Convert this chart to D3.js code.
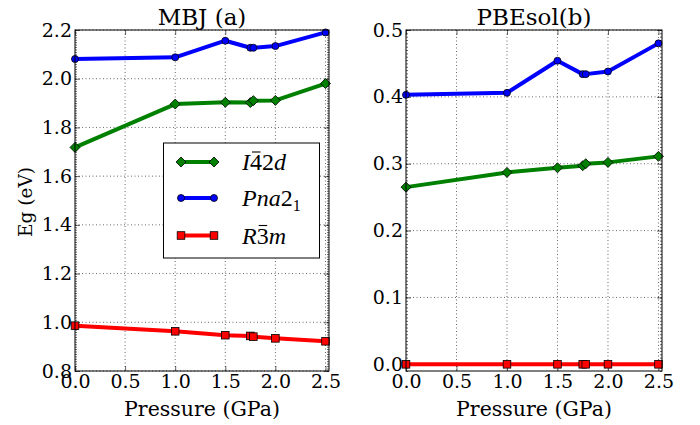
<!DOCTYPE html>
<html><head><meta charset="utf-8">
<script src="https://cdn.jsdelivr.net/npm/d3@7"></script>
<style>
body{margin:0;background:#fff;}
svg{display:block;font-family:"DejaVu Serif","Liberation Serif",serif;}
</style></head>
<body><svg id="c" width="700" height="425"></svg>
<script>
// Data
const pressure = [0, 1.0, 1.5, 1.75, 1.78, 2.0, 2.5];
const mbjI42d  = [1.718, 1.896, 1.903, 1.902, 1.910, 1.911, 1.980];
const mbjPna21 = [2.081, 2.088, 2.156, 2.127, 2.127, 2.134, 2.190];
const mbjR3m   = [0.986, 0.963, 0.947, 0.944, 0.941, 0.934, 0.922];
const pbeI42d  = [0.265, 0.287, 0.294, 0.297, 0.300, 0.302, 0.311];
const pbePna21 = [0.403, 0.406, 0.454, 0.434, 0.434, 0.438, 0.480];
const pbeR3m   = [0, 0, 0, 0, 0, 0, 0];
const xTicks = [0, 0.5, 1.0, 1.5, 2.0, 2.5];
const mbjYTicks = [0.8, 1.0, 1.2, 1.4, 1.6, 1.8, 2.0, 2.2];
const pbeYTicks = [0.0, 0.1, 0.2, 0.3, 0.4, 0.5];
const titles = ["MBJ (a)", "PBEsol(b)"];

const FONT = '"DejaVu Serif","Liberation Serif",serif';
const MATH = '"Liberation Serif","DejaVu Serif",serif';
const svg = d3.select("#c");
const series = [
  {key:"I42d", color:"#008000", marker:"diamond"},
  {key:"Pna21", color:"#0000ff", marker:"circle"},
  {key:"R3m", color:"#ff0000", marker:"square"}
];

function drawMarker(g, type, x, y, color){
  if(type==="diamond"){
    g.append("path").attr("d",`M${x},${y-5}L${x+5},${y}L${x},${y+5}L${x-5},${y}Z`)
      .attr("fill",color).attr("stroke","#000").attr("stroke-width",0.8);
  } else if(type==="circle"){
    g.append("circle").attr("cx",x).attr("cy",y).attr("r",3.5)
      .attr("fill",color).attr("stroke","#000").attr("stroke-width",0.8);
  } else {
    g.append("rect").attr("x",x-3.8).attr("y",y-3.8).attr("width",7.6).attr("height",7.6)
      .attr("fill",color).attr("stroke","#000").attr("stroke-width",0.8);
  }
}

function panel(opts){
  const {x0,x1,y0,y1,yDomain,yTicks,yFmt,data,title,minorStep} = opts;
  const x = d3.scaleLinear().domain([0,2.535]).range([x0,x1]);
  const y = d3.scaleLinear().domain(yDomain).range([y1,y0]);
  const g = svg.append("g");
  const grid = g.append("g").attr("stroke","#000").attr("stroke-width",0.6).attr("stroke-dasharray","1,2.5");
  xTicks.forEach(t=>{ if(t>0) grid.append("line").attr("x1",x(t)).attr("x2",x(t)).attr("y1",y0).attr("y2",y1); });
  yTicks.forEach(t=>{ grid.append("line").attr("x1",x0).attr("x2",x1).attr("y1",y(t)).attr("y2",y(t)); });

  const fmt = d3.format(".1f");
  const xb = g.append("g").attr("transform",`translate(0,${y1})`)
    .call(d3.axisBottom(x).tickValues(xTicks).tickFormat(fmt).tickSizeInner(-5).tickSizeOuter(0).tickPadding(3));
  const xt = g.append("g").attr("transform",`translate(0,${y0})`)
    .call(d3.axisTop(x).tickValues(xTicks).tickFormat("").tickSizeInner(-5).tickSizeOuter(0));
  const yl = g.append("g").attr("transform",`translate(${x0},0)`)
    .call(d3.axisLeft(y).tickValues(yTicks).tickFormat(yFmt).tickSizeInner(-5).tickSizeOuter(0).tickPadding(3));
  const yr = g.append("g").attr("transform",`translate(${x1},0)`)
    .call(d3.axisRight(y).tickValues(yTicks).tickFormat("").tickSizeInner(-5).tickSizeOuter(0));
  const minor = d3.range(Math.ceil(yDomain[0]/minorStep), Math.floor(yDomain[1]/minorStep)+1).map(i=>i*minorStep);
  g.append("g").attr("transform",`translate(${x0},0)`)
    .call(d3.axisLeft(y).tickValues(minor).tickFormat("").tickSizeInner(-2).tickSizeOuter(0))
    .select(".domain").remove();
  g.append("g").attr("transform",`translate(${x1},0)`)
    .call(d3.axisRight(y).tickValues(minor).tickFormat("").tickSizeInner(-2).tickSizeOuter(0))
    .select(".domain").remove();
  [xb,xt,yl,yr].forEach(a=>{ a.select(".domain").remove(); });
  g.selectAll(".tick line").attr("stroke","#000").attr("stroke-width",0.6);
  xb.selectAll("text").attr("font-size",19).attr("font-family",FONT).attr("fill","#000");
  yl.selectAll("text").attr("font-size",19).attr("font-family",FONT).attr("fill","#000");

  const line = d3.line().x((d,i)=>x(pressure[i])).y(d=>y(d));
  data.forEach((vals,si)=>{
    const s = series[si];
    g.append("path").datum(vals).attr("d",line).attr("fill","none")
      .attr("stroke",s.color).attr("stroke-width",4).attr("stroke-linejoin","round");
  });
  data.forEach((vals,si)=>{
    const s = series[si];
    const mg = g.append("g");
    vals.forEach((v,i)=>drawMarker(mg, s.marker, x(pressure[i]), y(v), s.color));
  });
  g.append("rect").attr("x",x0).attr("y",y0).attr("width",x1-x0).attr("height",y1-y0)
    .attr("fill","none").attr("stroke","#000").attr("stroke-width",1);
  g.append("text").attr("x",(x0+x1)/2).attr("y",y0-5).attr("text-anchor","middle")
    .attr("font-size",23).text(title);
  g.append("text").attr("x",(x0+x1)/2).attr("y",416).attr("text-anchor","middle")
    .attr("font-size",20.5).text("Pressure (GPa)");
  return {x,y,g};
}

panel({x0:75,x1:329,y0:30,y1:371,yDomain:[0.8,2.2],yTicks:mbjYTicks,yFmt:d3.format(".1f"),
  data:[mbjI42d,mbjPna21,mbjR3m],title:titles[0],minorStep:0.01});
panel({x0:406,x1:662,y0:30,y1:371,yDomain:[-0.01,0.5],yTicks:pbeYTicks,yFmt:d3.format(".1f"),
  data:[pbeI42d,pbePna21,pbeR3m],title:titles[1],minorStep:0.005});

svg.append("text").attr("transform","translate(32,202) rotate(-90)").attr("text-anchor","middle")
  .attr("font-size",18.5).text("Eg (eV)");

// legend
const leg = svg.append("g");
leg.append("rect").attr("x",163.5).attr("y",143).attr("width",156).attr("height",115)
  .attr("fill","#fff").attr("stroke","#000").attr("stroke-width",1);
const legY = [162, 198, 235.5];
series.forEach((s,i)=>{
  leg.append("line").attr("x1",181).attr("x2",214).attr("y1",legY[i]).attr("y2",legY[i])
    .attr("stroke",s.color).attr("stroke-width",4);
  drawMarker(leg, s.marker, 181, legY[i], s.color);
  drawMarker(leg, s.marker, 214, legY[i], s.color);
});
function legText(i, parts){
  const t = leg.append("text").attr("x",242).attr("y",legY[i]+8).attr("font-size",24)
    .attr("font-family",MATH);
  const bars = [];
  parts.forEach(p=>{
    const ts = t.append("tspan").text(p.t).attr("font-style",p.it?"italic":"normal");
    if(p.sub) ts.attr("font-size",16).attr("dy",5);
    if(p.bar) bars.push(ts);
  });
  bars.forEach(ts=>{
    const n = ts.node();
    const start = n.getStartPositionOfChar(0), end = n.getEndPositionOfChar(0);
    const bb = n.getExtentOfChar(0);
    leg.append("line").attr("x1",start.x+2).attr("x2",end.x-1.5)
      .attr("y1",bb.y+3).attr("y2",bb.y+3).attr("stroke","#000").attr("stroke-width",1.1);
  });
}
legText(0,[{t:"I",it:true},{t:"4",bar:true},{t:"2"},{t:"d",it:true}]);
legText(1,[{t:"Pna",it:true},{t:"2"},{t:"1",sub:true}]);
legText(2,[{t:"R",it:true},{t:"3",bar:true},{t:"m",it:true}]);
</script></body></html>
